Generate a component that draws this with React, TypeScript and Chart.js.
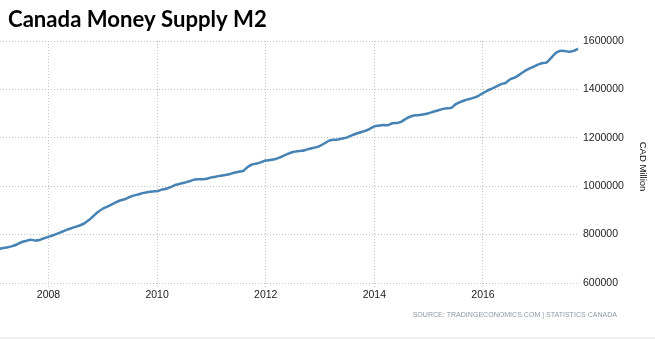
import React, { useEffect, useRef } from "react";
import { Chart, registerables } from "chart.js";

Chart.register(...registerables);

const TITLE = "Canada Money Supply M2";
const SOURCE = "SOURCE: TRADINGECONOMICS.COM | STATISTICS CANADA";
const UNIT = "CAD Million";

// monthly observations, first one is February 2007
const START_YEAR = 2007;
const START_MONTH = 2;
const m2Values = [
  741000, 744700, 748000, 752500, 759200, 768300, 773600, 779000, 775300, 777400,
  784800, 791000, 797200, 804300, 811700, 819200, 826200, 832400, 838600, 847700,
  861000, 877900, 894500, 906900, 915200, 924700, 934600, 942100, 947000, 955700,
  961900, 966900, 972300, 976400, 978500, 979300, 985900, 989600, 995900, 1005400,
  1009500, 1014500, 1019400, 1026100, 1028500, 1029000, 1031000, 1036400, 1039300, 1043400,
  1046700, 1049600, 1055900, 1059600, 1063300, 1079000, 1089800, 1093500, 1099300, 1105900,
  1108400, 1111700, 1118300, 1126600, 1134500, 1141500, 1144800, 1146100, 1151000, 1156000,
  1160500, 1166800, 1177100, 1188300, 1191600, 1193200, 1197000, 1201900, 1209800, 1216800,
  1223000, 1228800, 1237100, 1247400, 1249900, 1252400, 1252000, 1259900, 1261500, 1266900,
  1279300, 1288000, 1293000, 1293800, 1297100, 1301200, 1307400, 1312800, 1318600, 1322300,
  1323600, 1339300, 1348000, 1355400, 1360400, 1365800, 1373700, 1384400, 1395200, 1403400,
  1412100, 1421700, 1427000, 1441900, 1449000, 1460100, 1473000, 1484100, 1492000, 1501500,
  1508100, 1510600, 1528800, 1549500, 1559000, 1558600, 1555300, 1559000, 1568100,
];

const xTickYears = [2008, 2010, 2012, 2014, 2016];
const yTickValues = [600000, 800000, 1000000, 1200000, 1400000, 1600000];
const X_MIN = 2007.107;
const X_MAX = 2017.768;

const GRID_COLOR = "#c4c4c4";
const TICK_FONT = { family: "'Liberation Sans', Arial, sans-serif", size: 10.5 };

const textPlugin = {
  id: "extraTexts",
  afterDraw(chart: any) {
    const ctx = chart.ctx as CanvasRenderingContext2D;
    ctx.save();
    // title
    ctx.fillStyle = "#000";
    ctx.textAlign = "left";
    ctx.textBaseline = "alphabetic";
    ctx.font = "bold 22px Lato, 'Open Sans', sans-serif";
    const tw = ctx.measureText(TITLE).width;
    const tSize = (22 * 259) / tw;
    ctx.font = `bold ${tSize}px Lato, 'Open Sans', sans-serif`;
    ctx.fillText(TITLE, 8, 27);

    // unit label
    ctx.save();
    ctx.translate(643, 166.5);
    ctx.rotate(Math.PI / 2);
    ctx.font = "9.5px 'Liberation Sans', Arial, sans-serif";
    ctx.textAlign = "center";
    ctx.textBaseline = "middle";
    ctx.fillStyle = "#111";
    ctx.fillText(UNIT, 0, 0);
    ctx.restore();

    // source
    ctx.font = "9px 'Liberation Sans', Arial, sans-serif";
    const sw = ctx.measureText(SOURCE).width;
    const sSize = (9 * 205) / sw;
    ctx.font = `${sSize}px 'Liberation Sans', Arial, sans-serif`;
    ctx.textAlign = "right";
    ctx.textBaseline = "middle";
    ctx.fillStyle = "#8d99a6";
    ctx.fillText(SOURCE, 617, 315.5);

    // bottom separator strip
    ctx.fillStyle = "#f0f0f0";
    ctx.fillRect(0, 337, 655, 2);
    ctx.restore();
  },
};

export default function App() {
  const canvasRef = useRef<HTMLCanvasElement | null>(null);

  useEffect(() => {
    const canvas = canvasRef.current;
    if (!canvas) return;
    const points = m2Values.map((v, i) => ({
      x: START_YEAR + (START_MONTH - 1) / 12 + i / 12,
      y: v,
    }));
    const chart = new Chart(canvas, {
      type: "line",
      data: {
        datasets: [
          {
            label: "Canada Money Supply M2",
            data: points,
            borderColor: "#4682b4",
            borderWidth: 2.5,
            pointRadius: 0,
            tension: 0.2,
            fill: false,
          },
        ],
      },
      options: {
        responsive: false,
        animation: false,
        devicePixelRatio: 1,
        layout: { padding: { top: 41, left: 0, right: 0, bottom: 0 } },
        plugins: {
          legend: { display: false },
          title: { display: false },
          tooltip: { enabled: false },
        },
        scales: {
          x: {
            type: "linear",
            position: "bottom",
            min: X_MIN,
            max: X_MAX,
            afterBuildTicks: (s: any) => {
              s.ticks = xTickYears.map((v) => ({ value: v }));
            },
            afterFit: (s: any) => {
              s.height = 56;
            },
            ticks: {
              font: TICK_FONT,
              color: "#1c1c1c",
              padding: 2,
              maxRotation: 0,
              autoSkip: false,
              callback: (v: any) => String(v),
            },
            grid: {
              color: GRID_COLOR,
              lineWidth: 1,
              drawTicks: true,
              tickLength: 4,
              tickBorderDash: [1, 2],
            },
            border: { display: false, dash: [1, 2] },
          },
          y: {
            type: "linear",
            position: "right",
            min: 600000,
            max: 1600000,
            afterBuildTicks: (s: any) => {
              s.ticks = yTickValues.map((v) => ({ value: v }));
            },
            afterFit: (s: any) => {
              s.width = 76;
            },
            ticks: {
              font: TICK_FONT,
              color: "#1c1c1c",
              padding: 4,
              autoSkip: false,
              callback: (v: any) => String(v),
            },
            grid: {
              color: GRID_COLOR,
              lineWidth: 1,
              drawTicks: false,
            },
            border: { display: false, dash: [1, 2] },
          },
        },
      },
      plugins: [textPlugin],
    });
    return () => chart.destroy();
  }, []);

  return (
    <div style={{ position: "absolute", left: 0, top: 0, width: 655, height: 339, background: "#fff" }}>
      <canvas ref={canvasRef} width={655} height={339} />
    </div>
  );
}
